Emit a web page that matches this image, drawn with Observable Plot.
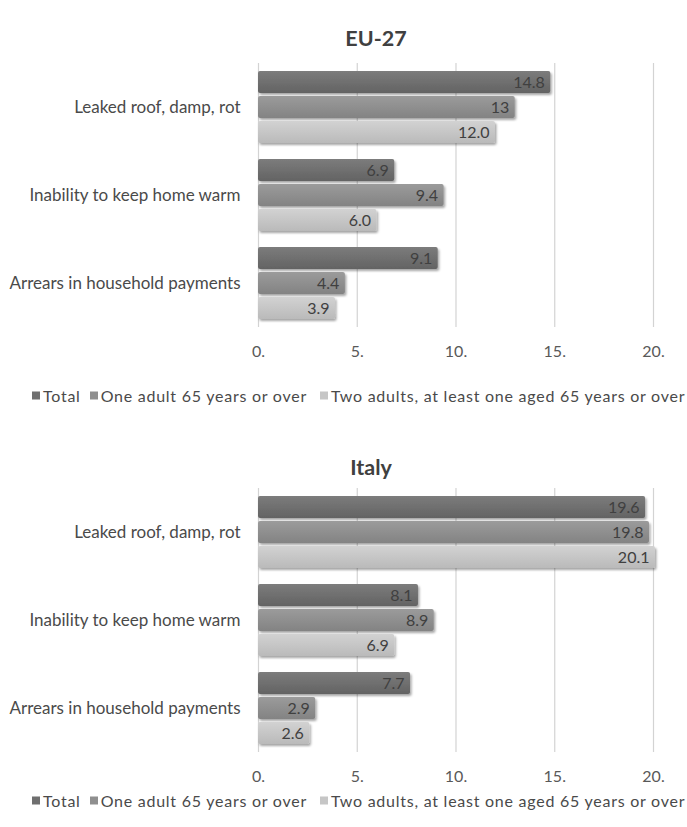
<!DOCTYPE html>
<html>
<head>
<meta charset="utf-8">
<script src="https://cdn.jsdelivr.net/npm/d3@7"></script>
<script src="https://cdn.jsdelivr.net/npm/@observablehq/plot@0.6"></script>
<style>
  html, body { margin: 0; padding: 0; background: #fff; }
  #root { position: relative; width: 687px; height: 827px; font-family: Lato, sans-serif; color: #404040; }
  .title { position: absolute; transform: translate(-50%, -50%); font-weight: bold; font-size: 21.5px; color: #404040; white-space: nowrap; }
  .legend { position: absolute; left: 32px; display: flex; align-items: center; font-size: 16px; letter-spacing: 0.75px; color: #4a4a4a; white-space: nowrap; transform: translateY(-50%); }
  .legend .item { display: flex; align-items: center; }
  .legend .item.i0 { margin-right: 9px; }
  .legend .item.i1 { margin-right: 13px; }
  .legend .sw { width: 8px; height: 8px; margin-right: 3px; }
  .chart { position: absolute; left: 0; }
</style>
</head>
<body>
<div id="root"></div>
<script>
const categories = ["Leaked roof, damp, rot", "Inability to keep home warm", "Arrears in household payments"];
const series = ["Total", "One adult 65 years or over", "Two adults, at least one aged 65 years or over"];
const seriesColors = ["#6f6f6f", "#8f8f8f", "#c6c6c6"];
const seriesTop = ["#7c7c7c", "#9b9b9b", "#d2d2d2"];
const seriesBottom = ["#636363", "#838383", "#bababa"];
const xTicks = [0, 5, 10, 15, 20];
const xTickLabels = ["0.", "5.", "10.", "15.", "20."];

const euTitle = "EU-27";
const euValues = [[14.8, 13, 12.0], [6.9, 9.4, 6.0], [9.1, 4.4, 3.9]];
const euLabels = [["14.8", "13", "12.0"], ["6.9", "9.4", "6.0"], ["9.1", "4.4", "3.9"]];

const itTitle = "Italy";
const itValues = [[19.6, 19.8, 20.1], [8.1, 8.9, 6.9], [7.7, 2.9, 2.6]];
const itLabels = [["19.6", "19.8", "20.1"], ["8.1", "8.9", "6.9"], ["7.7", "2.9", "2.6"]];

const root = document.getElementById("root");

function makeChart(values, labels, id) {
  const data = [];
  categories.forEach((c, i) => series.forEach((s, j) => data.push({cat: c, ser: s, v: values[i][j], label: labels[i][j]})));
  const svg = Plot.plot({
    width: 687, height: 315,
    marginLeft: 258, marginRight: 34, marginTop: 7, marginBottom: 42,
    style: {fontFamily: "Lato, sans-serif", fontSize: "16px", color: "#404040", background: "transparent"},
    x: {domain: [0, 20], ticks: xTicks, tickFormat: d => xTickLabels[xTicks.indexOf(d)], tickSize: 0, tickPadding: 18, label: null},
    fy: {domain: categories, padding: 0, label: null, axis: "left", tickSize: 0, tickPadding: 18},
    y: {domain: series, axis: null, paddingInner: 0.137, paddingOuter: 0.31},
    color: {domain: series, range: seriesColors},
    marks: [
      Plot.ruleX(xTicks, {stroke: "#d3d3d3", strokeWidth: 1.2}),
      Plot.barX(data, {fy: "cat", y: "ser", x: "v", fill: "ser"}),
      Plot.text(data, {fy: "cat", y: "ser", x: "v", text: "label", textAnchor: "end", dx: -6, fill: "#404040", fontSize: 16})
    ]
  });
  const ns = "http://www.w3.org/2000/svg";
  const defs = document.createElementNS(ns, "defs");
  let html = `<filter id="${id}" x="-5%" y="-20%" width="115%" height="160%"><feDropShadow dx="1.5" dy="2" stdDeviation="1.2" flood-color="#000" flood-opacity="0.35"/></filter>`;
  seriesColors.forEach((c, i) => {
    html += `<linearGradient id="${id}g${i}" x1="0" y1="0" x2="0" y2="1"><stop offset="0" stop-color="${seriesTop[i]}"/><stop offset="1" stop-color="${seriesBottom[i]}"/></linearGradient>`;
  });
  defs.innerHTML = html;
  svg.insertBefore(defs, svg.firstChild);
  svg.querySelectorAll('g[aria-label="bar"] rect').forEach(r => {
    r.setAttribute("filter", `url(#${id})`);
    const f = (r.getAttribute("fill") || "").toLowerCase();
    const k = seriesColors.indexOf(f);
    if (k >= 0) r.setAttribute("fill", `url(#${id}g${k})`);
    r.setAttribute("rx", "2");
  });
  svg.querySelectorAll('g[aria-label="fy-axis tick label"]').forEach(t => { t.setAttribute("font-size", "17"); t.setAttribute("fill", "#4a4a4a"); });
  svg.querySelectorAll('g[aria-label="x-axis tick label"]').forEach(t => t.setAttribute("fill", "#595959"));
  return svg;
}

function addTitle(text, cx, cy) {
  const d = document.createElement("div");
  d.className = "title";
  d.style.left = cx + "px";
  d.style.top = cy + "px";
  d.textContent = text;
  root.appendChild(d);
}

function addLegend(cy) {
  const d = document.createElement("div");
  d.className = "legend";
  d.style.top = cy + "px";
  series.forEach((s, i) => {
    const it = document.createElement("div");
    it.className = "item i" + i;
    const sw = document.createElement("span");
    sw.className = "sw";
    sw.style.background = seriesColors[i];
    const tx = document.createElement("span");
    tx.textContent = s;
    it.appendChild(sw); it.appendChild(tx);
    d.appendChild(it);
  });
  root.appendChild(d);
}

addTitle(euTitle, 376, 38);
const c1 = makeChart(euValues, euLabels, "sh1");
c1.classList.add("chart"); c1.style.top = "55px";
root.appendChild(c1);
addLegend(395);

addTitle(itTitle, 371, 467);
const c2 = makeChart(itValues, itLabels, "sh2");
c2.classList.add("chart"); c2.style.top = "480px";
root.appendChild(c2);
addLegend(800);
</script>
</body>
</html>
